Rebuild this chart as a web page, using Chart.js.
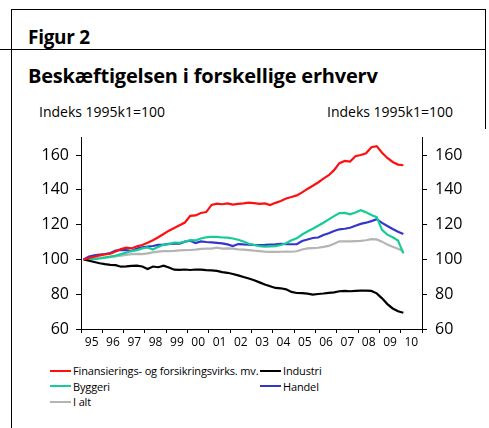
<!DOCTYPE html>
<html>
<head>
<meta charset="utf-8">
<script src="https://cdn.jsdelivr.net/npm/chart.js@4.4.1/dist/chart.umd.min.js"></script>
<style>
  html, body { margin: 0; padding: 0; background: #fff; }
  #wrap { position: relative; width: 489px; height: 428px; overflow: hidden; font-family: "Open Sans", sans-serif; color: #000; }
  .ln { position: absolute; background: #000; }
  .txt { position: absolute; white-space: nowrap; line-height: 1; }
  #fig { left: 28px; top: 28px; font-size: 19px; font-weight: bold; letter-spacing: -0.3px; }
  #title { left: 28px; top: 66px; font-size: 20px; font-weight: bold; letter-spacing: -0.2px; }
  #ylL { left: 39px; top: 105px; font-size: 14px; }
  #ylR { left: 327px; top: 105px; font-size: 14px; }
  #chartc { position: absolute; left: 0; top: 120px; }
  #legend { position: absolute; left: 50px; top: 363px; font-size: 11px; }
  .li { position: absolute; display: flex; align-items: center; white-space: nowrap; letter-spacing: -0.15px; }
  .sw { width: 21px; height: 2px; margin-right: 2px; }
</style>
</head>
<body>
<div id="wrap">
  <div class="ln" style="left:11px;top:9px;width:1px;height:419px;"></div>
  <div class="ln" style="left:11px;top:9px;width:475px;height:1px;"></div>
  <div class="ln" style="left:485px;top:9px;width:1px;height:120px;"></div>
  <div class="ln" style="left:0px;top:49px;width:486px;height:1px;"></div>
  <div class="txt" id="fig">Figur 2</div>
  <div class="txt" id="title">Beskæftigelsen i forskellige erhverv</div>
  <div class="txt" id="ylL">Indeks 1995k1=100</div>
  <div class="txt" id="ylR">Indeks 1995k1=100</div>
  <canvas id="chartc" width="489" height="230"></canvas>
  <div id="legend"></div>
</div>
<script>
// Quarterly data 1995K1 .. 2010K1 (index 1995K1 = 100)
const startYear = 1995;
const nQuarters = 61;
const quarters = [];
for (let i = 0; i < nQuarters; i++) quarters.push((startYear + Math.floor(i / 4)) + 'K' + (i % 4 + 1));

const seriesNames = ['Finansierings- og forsikringsvirks. mv.', 'Industri', 'Byggeri', 'Handel', 'I alt'];
const seriesColors = ['#ff1010', '#000000', '#14cc96', '#3535cc', '#b4b4b4'];

const finans = [100,100.8,101.5,102.3,102.8,103.3,104.5,106,106.8,106.3,107.5,108.3,109.6,111,112.7,114.6,
  116.5,118,119.6,121.2,125,125.3,126.7,127.2,131.3,132,131.7,132.2,131.5,131.9,132.2,132.6,
  132.3,131.9,132.2,131.2,132.5,133.6,135,135.9,136.8,138.5,140.5,142.3,144.2,146.4,148.4,151.3,
  155.3,156.6,156.2,159.3,160,161,164.5,165.1,161.3,158.3,156,154.5,154.1];
const industri = [100,99.2,98.5,97.8,97.3,96.9,96.7,95.8,96,96.3,96.4,95.9,94.5,95.9,95.5,96.4,
  95.3,94.1,94,94.2,93.9,94.2,94.1,93.8,93.7,93.4,92.7,92.3,91.6,90.8,89.9,89,
  88,86.8,85.6,84.6,83.6,83.4,82.8,81.3,80.7,80.6,80.3,79.8,80.1,80.4,80.8,81.1,
  81.7,81.9,81.7,81.9,82,82,81.9,80.5,77.6,74.3,71.8,70.2,69.3];
const byggeri = [100,100,100.1,100.5,101,101.6,102.2,103,103.9,104.8,105.3,106.3,106.9,105.7,107.2,108.4,
  108.8,109.7,109.5,110.3,111.1,110.9,112,112.7,113,112.9,112.6,112.5,112,111.3,110.3,109,
  108.3,107.6,107.4,107.5,107.6,108.3,109.3,111,112.1,114.3,116,117.6,119.3,121.1,123,124.9,
  126.6,126.7,125.9,126.9,128.3,127.1,125.5,124.3,117,114.2,112.7,110.8,103.5];
const handel = [100,101.7,102.4,102.8,103.1,103.7,105.1,105.3,105.4,104.8,106.3,107,107.4,107.7,108.3,108.5,
  108.9,109,109,110.2,110.7,109.4,110.3,110,109.8,109.5,109.2,108.6,107.7,108.8,108.6,108.5,
  108.3,108.2,108.3,108.5,108.6,109,108.8,108.7,108.7,110.6,111.4,112.3,112.6,114,115,116.3,
  117.3,117.6,118.2,119.3,120.4,121.1,122,123.1,121,119.2,117.5,115.9,114.6];
const ialt = [100,100.2,100.5,100.9,101.2,101.3,101.7,102.2,102.6,103,103.2,103,103.5,104,104.5,104.7,
  104.7,104.9,105.2,105.3,105.4,105.6,106,106.2,106.2,106.8,106.2,106.3,106.2,105.8,105.6,105.3,
  105,104.8,104.5,104.3,104.3,104.4,104.5,104.4,104.7,105.7,106.3,106.5,106.7,107.2,107.8,109,
  110.4,110.4,110.4,110.5,110.6,111,111.6,111.5,110.2,108.5,107.3,106.1,104.7];

const xTickLabels = ['95','96','97','98','99','00','01','02','03','04','05','06','07','08','09','10'];
const yTicks = [60,80,100,120,140,160];
const yMin = 60, yMax = 170;
const xMin = 1995, xMax = 2011;

const allSeries = [finans, industri, byggeri, handel, ialt];
function qx(label) { const y = parseInt(label.slice(0,4)); const q = parseInt(label.slice(5)); return y + (q - 0.5) / 4; }

const datasets = allSeries.map((vals, k) => ({
  label: seriesNames[k],
  data: vals.map((v, i) => ({ x: qx(quarters[i]), y: v })),
  borderColor: seriesColors[k],
  backgroundColor: seriesColors[k],
  borderWidth: 2.2,
  pointRadius: 0,
  tension: 0,
  yAxisID: 'y'
}));

const yScale = (pos, w) => ({
  type: 'linear', position: pos, min: yMin, max: yMax,
  afterBuildTicks: s => { s.ticks = yTicks.map(v => ({ value: v })); },
  afterFit: s => { s.width = w; },
  grid: { drawOnChartArea: false, drawTicks: true, tickLength: 5, color: '#000', lineWidth: 1 },
  border: { display: true, color: '#000', width: 1 },
  ticks: { color: '#000', font: { size: 16, family: 'Open Sans' }, padding: pos === 'left' ? 7 : 8 }
});

new Chart(document.getElementById('chartc'), {
  type: 'line',
  data: { datasets },
  options: {
    responsive: false, animation: false,
    layout: { padding: { top: 14, left: 0, right: 0, bottom: 0 } },
    plugins: { legend: { display: false }, tooltip: { enabled: false } },
    scales: {
      x: {
        type: 'linear', min: xMin, max: xMax,
        afterBuildTicks: s => { const t = []; for (let v = xMin; v <= xMax; v++) t.push({ value: v }); s.ticks = t; },
        afterFit: s => { s.height = 21; },
        grid: { drawOnChartArea: false, drawTicks: true, tickLength: 4, color: '#000' },
        border: { display: true, color: '#000', width: 1 },
        ticks: {
          color: '#000', font: { size: 12, family: 'Open Sans' }, padding: 2, maxRotation: 0, autoSkip: false,
          labelOffset: 10.65,
          callback: v => { const i = v - xMin; return i >= 0 && i < xTickLabels.length ? xTickLabels[i] : ''; }
        }
      },
      y: yScale('left', 81),
      y2: yScale('right', 67)
    }
  }
});

// HTML legend built from the datasets: two columns
const legend = document.getElementById('legend');
const pos = [[0,0],[210,0],[0,15.5],[210,15.5],[0,31]];
datasets.forEach((d, k) => {
  const el = document.createElement('div');
  el.className = 'li';
  el.style.left = pos[k][0] + 'px';
  el.style.top = pos[k][1] + 'px';
  el.innerHTML = '<span class="sw" style="background:' + d.borderColor + '"></span><span></span>';
  el.lastChild.textContent = d.label;
  legend.appendChild(el);
});
</script>
</body>
</html>
